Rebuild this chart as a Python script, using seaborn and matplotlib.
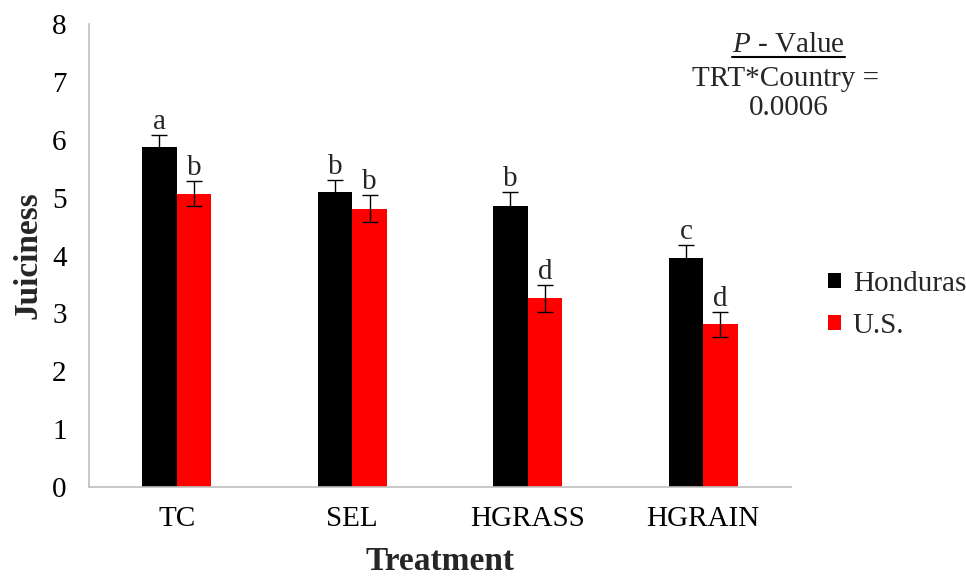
import pandas as pd
import seaborn as sns
import matplotlib.pyplot as plt
from matplotlib.patches import Patch
from matplotlib.lines import Line2D

# values
treatments = ["TC", "SEL", "HGRASS", "HGRAIN"]
countries = ["Honduras", "U.S."]
honduras_mean = [5.88, 5.09, 4.86, 3.95]
us_mean = [5.07, 4.81, 3.26, 2.81]
honduras_se = [0.21, 0.22, 0.23, 0.23]
us_se = [0.22, 0.23, 0.23, 0.22]
honduras_letters = ["a", "b", "b", "c"]
us_letters = ["b", "b", "d", "d"]
colors = ["#000000", "#FF0000"]

df = pd.DataFrame({
    "Treatment": treatments * 2,
    "Country": [countries[0]] * 4 + [countries[1]] * 4,
    "Juiciness": honduras_mean + us_mean,
})
se_all = honduras_se + us_se
letters_all = honduras_letters + us_letters

sns.set_style("white")
plt.rcParams["font.family"] = ["Liberation Serif", "DejaVu Serif"]
plt.rcParams["mathtext.fontset"] = "custom"
plt.rcParams["mathtext.rm"] = "Liberation Serif"
plt.rcParams["mathtext.it"] = "Liberation Serif:italic"

fig = plt.figure(figsize=(9.66, 5.76), dpi=100)
ax = fig.add_axes([0.0921, 0.1545, 0.7267, 0.8038])

sns.barplot(data=df, x="Treatment", y="Juiciness", hue="Country",
            order=treatments, hue_order=countries, palette=colors,
            errorbar=None, width=0.394, saturation=1, ax=ax, legend=False)

# error bars and significance letters on each bar
for patch, se, letter in zip(ax.patches, se_all, letters_all):
    xc = patch.get_x() + patch.get_width() / 2
    h = patch.get_height()
    patch.set_edgecolor("none")
    ax.errorbar(xc, h, yerr=se, color="black", lw=1.0, capsize=6, capthick=1.0)
    ax.annotate(letter, (xc, h + se), xytext=(0, 0), textcoords="offset points",
                ha="center", va="bottom", fontsize=21)

ax.set_xlim(-0.5, len(treatments) - 0.5)
ax.set_ylim(0, 8)
ax.set_yticks(range(0, 9))
ax.tick_params(axis="y", length=0, pad=16, labelsize=21, colors="black")
ax.tick_params(axis="x", length=0, pad=14, labelsize=21, colors="black")
ax.set_xlabel("Treatment", fontsize=24, fontweight="bold", labelpad=10)
ax.set_ylabel("Juiciness", fontsize=24, fontweight="bold", labelpad=6)
for side in ["top", "right"]:
    ax.spines[side].set_visible(False)
for side in ["left", "bottom"]:
    ax.spines[side].set_color("#BFBFBF")
    ax.spines[side].set_linewidth(1.2)

handles = [Patch(facecolor=c, edgecolor="none") for c in colors]
fig.legend(handles, countries, loc="center left",
           bbox_to_anchor=(0.830, 1 - 305 / 576), frameon=False, fontsize=21,
           handlelength=0.45, handleheight=0.45, handletextpad=0.4,
           labelspacing=0.55)

# P-value note, first line underlined
t1 = fig.text(0.8160, 1 - 45 / 576, r"$P$ - Value", ha="center", va="center", fontsize=21)
fig.text(0.8130, 1 - 79 / 576, "TRT*Country =", ha="center", va="center", fontsize=21)
fig.text(0.8160, 1 - 108 / 576, "0.0006", ha="center", va="center", fontsize=21)
fig.canvas.draw()
bb = t1.get_window_extent().transformed(fig.transFigure.inverted())
fig.add_artist(Line2D([bb.x0, bb.x1], [bb.y0 + 0.002, bb.y0 + 0.002],
                      transform=fig.transFigure, color="black", lw=1.5))

fig.savefig("out.png", dpi=100)
